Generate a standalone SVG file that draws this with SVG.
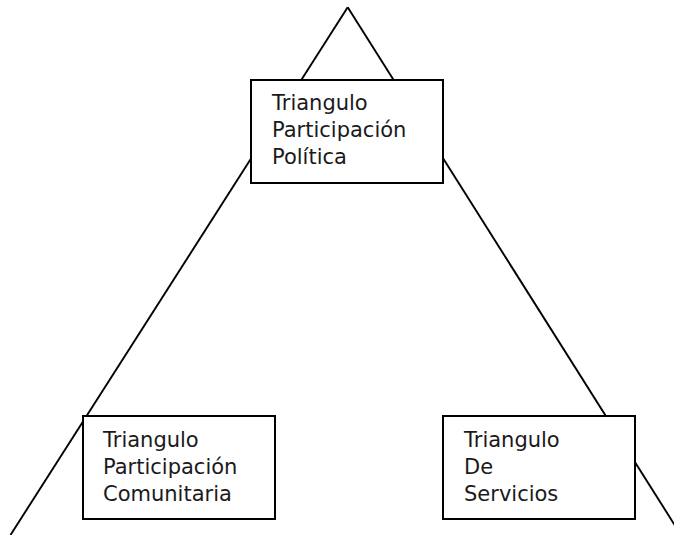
<svg xmlns="http://www.w3.org/2000/svg" width="674" height="535" viewBox="0 0 674 535">
<style>
.box{fill:#fff;stroke:#000;stroke-width:2}
.ln{stroke:#000;stroke-width:1.9;fill:none}
.t{font-family:"DejaVu Sans",Verdana,sans-serif;font-size:21px;fill:#1a1a1a}
</style>
<rect width="674" height="535" fill="#fff"/>
<g id="connectors">
<line class="ln" x1="347.7" y1="7.3" x2="10.5" y2="535"/>
<line class="ln" x1="347.7" y1="7.3" x2="681" y2="535"/>
</g>
<g id="politica">
<rect class="box" x="251" y="80" width="192" height="103"/>
<text class="t" x="272" y="110">Triangulo</text>
<text class="t" x="272" y="137">Participación</text>
<text class="t" x="272" y="164">Política</text>
</g>
<g id="comunitaria">
<rect class="box" x="83" y="416" width="192" height="103"/>
<text class="t" x="103" y="447">Triangulo</text>
<text class="t" x="103" y="474">Participación</text>
<text class="t" x="103" y="501">Comunitaria</text>
</g>
<g id="servicios">
<rect class="box" x="443" y="416" width="192" height="103"/>
<text class="t" x="464" y="447">Triangulo</text>
<text class="t" x="464" y="474">De</text>
<text class="t" x="464" y="501">Servicios</text>
</g>
</svg>
